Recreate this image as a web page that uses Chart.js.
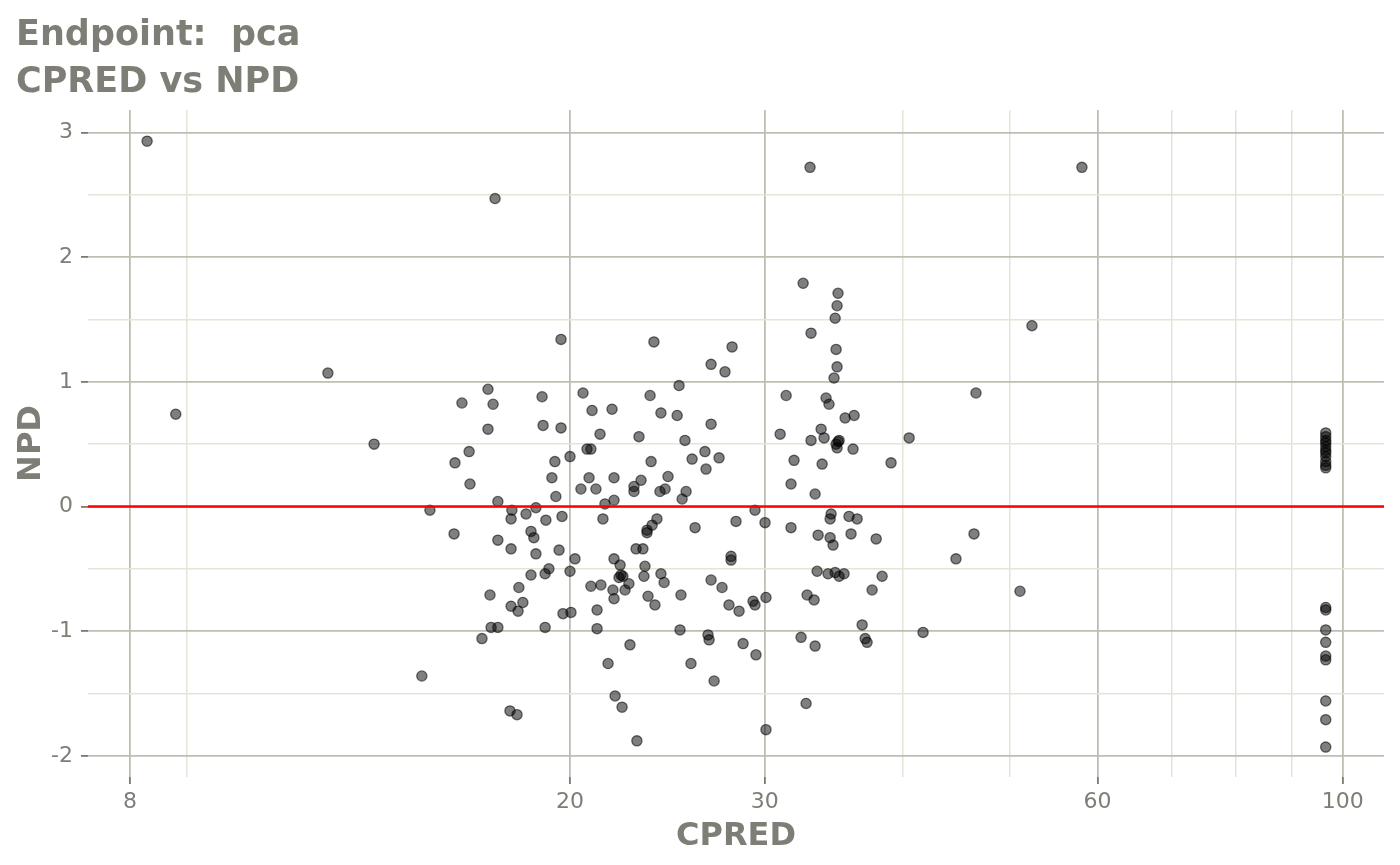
<!DOCTYPE html>
<html>
<head>
<meta charset="utf-8">
<script src="https://cdn.jsdelivr.net/npm/chart.js@4.4.1/dist/chart.umd.min.js"></script>
<style>
  html, body { margin: 0; padding: 0; background: #ffffff; }
  #wrap { width: 1400px; height: 865px; }
</style>
</head>
<body>
<div id="wrap"><canvas id="grafico" width="1400" height="865"></canvas></div>
<script>
// CPRED (x, log scale) and NPD (y)
var cpred = [
  8.29, 8.80, 12.08, 13.30, 14.69, 14.94, 15.71, 15.74, 15.97, 16.21,
  16.24, 16.65, 16.86, 16.86, 16.93, 16.97, 17.04, 17.11, 17.21, 17.21,
  17.21, 17.65, 17.69, 17.72, 17.69, 17.69, 17.91, 17.95, 17.98, 18.13,
  18.25, 18.44, 18.44, 18.55, 18.63, 18.63, 18.87, 18.91, 18.99, 18.99,
  19.02, 19.14, 19.26, 19.38, 19.42, 19.55, 19.63, 19.63, 19.67, 19.71,
  20.00, 20.00, 20.04, 20.21, 20.46, 20.55, 20.72, 20.81, 20.89, 20.94,
  20.89, 21.11, 21.16, 21.16, 21.29, 21.33, 21.42, 21.51, 21.65, 21.83,
  21.87, 21.92, 21.92, 21.92, 21.92, 21.97, 22.15, 22.20, 22.24, 22.29,
  22.33, 22.43, 22.61, 22.66, 22.85, 22.85, 22.95, 22.99, 23.09, 23.19,
  23.28, 23.33, 23.38, 23.48, 23.48, 23.53, 23.63, 23.68, 23.73, 23.82,
  23.87, 23.97, 24.12, 24.17, 24.17, 24.33, 24.38, 24.53, 25.00, 25.10,
  25.15, 25.20, 25.26, 25.41, 25.47, 25.73, 25.79, 25.95, 26.49, 26.55,
  26.66, 26.72, 26.83, 26.83, 26.83, 27.00, 27.28, 27.45, 27.62, 27.85,
  27.97, 27.97, 28.03, 28.26, 28.44, 28.68, 29.28, 29.40, 29.40, 29.46,
  30.02, 30.08, 30.08, 30.98, 31.37, 31.69, 31.69, 31.89, 32.36, 32.50,
  32.70, 32.77, 32.97, 33.04, 33.04, 33.25, 33.32, 33.32, 33.46, 33.53,
  33.74, 33.81, 33.95, 34.09, 34.23, 34.30, 34.38, 34.38, 34.45, 34.59,
  34.66, 34.74, 34.74, 34.81, 34.81, 34.88, 34.88, 34.88, 34.95, 34.95,
  35.03, 35.03, 35.39, 35.47, 35.76, 35.91, 36.06, 36.14, 36.37, 36.75,
  36.98, 37.13, 37.52, 37.84, 38.31, 39.03, 40.53, 41.72, 44.68, 46.39,
  46.58, 51.05, 52.34, 58.08,
  96.5, 96.5, 96.5, 96.5, 96.5, 96.5, 96.5, 96.5, 96.5, 96.5,
  96.5, 96.5, 96.5, 96.5, 96.5, 96.5, 96.5, 96.5, 96.5, 96.5
];
var npd = [
  2.93, 0.74, 1.07, 0.50, -1.36, -0.03, -0.22, 0.35, 0.83, 0.44,
  0.18, -1.06, 0.94, 0.62, -0.71, -0.97, 0.82, 2.47, -0.97, 0.04,
  -0.27, -1.64, -0.10, -0.03, -0.34, -0.80, -1.67, -0.84, -0.65, -0.77,
  -0.06, -0.20, -0.55, -0.25, -0.38, -0.01, 0.88, 0.65, -0.97, -0.54,
  -0.11, -0.50, 0.23, 0.36, 0.08, -0.35, 1.34, 0.63, -0.08, -0.86,
  0.40, -0.52, -0.85, -0.42, 0.14, 0.91, 0.46, 0.23, 0.46, 0.77,
  -0.64, 0.14, -0.83, -0.98, 0.58, -0.63, -0.10, 0.02, -1.26, 0.78,
  -0.67, 0.05, -0.42, 0.23, -0.74, -1.52, -0.57, -0.47, -0.55, -1.61,
  -0.56, -0.67, -0.62, -1.11, 0.16, 0.12, -0.34, -1.88, 0.56, 0.21,
  -0.34, -0.56, -0.48, -0.19, -0.21, -0.72, 0.89, 0.36, -0.15, 1.32,
  -0.79, -0.10, 0.12, 0.75, -0.54, -0.61, 0.14, 0.24, 0.73, 0.97,
  -0.99, -0.71, 0.06, 0.53, 0.12, -1.26, 0.38, -0.17, 0.44, 0.30,
  -1.03, -1.07, 1.14, -0.59, 0.66, -1.40, 0.39, -0.65, 1.08, -0.79,
  -0.40, -0.43, 1.28, -0.12, -0.84, -1.10, -0.76, -0.03, -0.79, -1.19,
  -0.13, -0.73, -1.79, 0.58, 0.89, 0.18, -0.17, 0.37, -1.05, 1.79,
  -1.58, -0.71, 2.72, 1.39, 0.53, -0.75, -1.12, 0.10, -0.52, -0.23,
  0.62, 0.34, 0.55, 0.87, -0.54, 0.82, -0.10, -0.25, -0.06, -0.31,
  1.03, -0.53, 1.51, 1.26, 0.50, 0.47, 1.12, 1.61, 1.71, 0.52,
  0.53, -0.56, -0.54, 0.71, -0.08, -0.22, 0.46, 0.73, -0.10, -0.95,
  -1.06, -1.09, -0.67, -0.26, -0.56, 0.35, 0.55, -1.01, -0.42, -0.22,
  0.91, -0.68, 1.45, 2.72,
  0.59, 0.56, 0.53, 0.51, 0.48, 0.45, 0.43, 0.40, 0.36, 0.33,
  0.31, -0.81, -0.83, -0.99, -1.09, -1.20, -1.23, -1.56, -1.71, -1.93
];

var xMajor = [8, 20, 30, 60, 100];
var xMinor = [9, 40, 50, 70, 80, 90];
var yTicks = [-2, -1.5, -1, -0.5, 0, 0.5, 1, 1.5, 2, 2.5, 3];
var xLimits = [7.33, 108.95];
var yLimits = [-2.17, 3.18];

var corMajor = '#bebeb2';
var corMinor = '#e5e5d7';
var corTexto = '#7e7e76';
var corTick = '#7a7a74';

var pontos = [];
for (var i in cpred) {
  pontos.push({ x: cpred[i], y: npd[i] });
}

function ehMajorX(v) { return xMajor.indexOf(v) >= 0; }
function ehMajorY(v) { return Number.isInteger(v); }

var chartdata = {
  datasets: [
    {
      // linha de referencia em NPD = 0
      data: [{ x: xLimits[0], y: 0 }, { x: xLimits[1], y: 0 }],
      showLine: true,
      borderColor: '#ff0000',
      borderWidth: 2.6,
      pointRadius: 0,
      order: 0
    },
    {
      data: pontos,
      backgroundColor: 'rgba(0,0,0,0.5)',
      borderColor: 'rgba(0,0,0,0.55)',
      borderWidth: 1.3,
      pointRadius: 5.1,
      order: 1
    }
  ]
};

var options = {
  responsive: false,
  devicePixelRatio: 1,
  animation: false,
  layout: { padding: { left: 16, right: 16, top: 0, bottom: 0 } },
  plugins: {
    legend: { display: false },
    tooltip: { enabled: false },
    title: {
      display: true,
      align: 'start',
      text: ['Endpoint:  pca', 'CPRED vs NPD'],
      color: corTexto,
      font: { family: 'DejaVu Sans', size: 35, weight: 'bold', lineHeight: 1.343 },
      padding: { top: 12, bottom: 4 }
    }
  },
  scales: {
    x: {
      type: 'logarithmic',
      min: xLimits[0],
      max: xLimits[1],
      bounds: 'data',
      afterBuildTicks: function(scale) {
        var todos = xMajor.concat(xMinor).sort(function(a, b) { return a - b; });
        scale.ticks = todos.map(function(v) { return { value: v }; });
      },
      afterFit: function(scale) { scale.height = 88; },
      border: { display: false },
      grid: {
        color: function(ctx) { return ehMajorX(ctx.tick.value) ? corMajor : corMinor; },
        lineWidth: function(ctx) { return ehMajorX(ctx.tick.value) ? 1.8 : 1.5; },
        tickColor: function(ctx) { return ehMajorX(ctx.tick.value) ? corTick : 'rgba(0,0,0,0)'; },
        tickWidth: 1.8,
        tickLength: 7
      },
      ticks: {
        autoSkip: false,
        maxRotation: 0,
        padding: 5,
        color: corTexto,
        font: { family: 'DejaVu Sans', size: 22 },
        callback: function(v) { return ehMajorX(v) ? String(v) : ''; }
      },
      title: {
        display: true,
        text: 'CPRED',
        color: corTexto,
        font: { family: 'DejaVu Sans', size: 32, weight: 'bold', lineHeight: 1.2 },
        padding: { top: 0, bottom: 9 }
      }
    },
    y: {
      type: 'linear',
      min: yLimits[0],
      max: yLimits[1],
      bounds: 'data',
      afterBuildTicks: function(scale) {
        scale.ticks = yTicks.map(function(v) { return { value: v }; });
      },
      afterFit: function(scale) { scale.width = 72; },
      border: { display: false },
      grid: {
        color: function(ctx) { return ehMajorY(ctx.tick.value) ? corMajor : corMinor; },
        lineWidth: function(ctx) { return ehMajorY(ctx.tick.value) ? 1.8 : 1.5; },
        tickColor: function(ctx) { return ehMajorY(ctx.tick.value) ? corTick : 'rgba(0,0,0,0)'; },
        tickWidth: 1.8,
        tickLength: 7
      },
      ticks: {
        autoSkip: false,
        padding: 8,
        color: corTexto,
        font: { family: 'DejaVu Sans', size: 22 },
        callback: function(v) { return ehMajorY(v) ? String(v) : ''; }
      },
      title: {
        display: true,
        text: 'NPD',
        color: corTexto,
        font: { family: 'DejaVu Sans', size: 32, weight: 'bold', lineHeight: 1.0 },
        padding: { top: 0, bottom: 0 }
      }
    }
  }
};

var ctx = document.getElementById('grafico');
var grafico = new Chart(ctx, {
  type: 'scatter',
  data: chartdata,
  options: options
});
</script>
</body>
</html>
